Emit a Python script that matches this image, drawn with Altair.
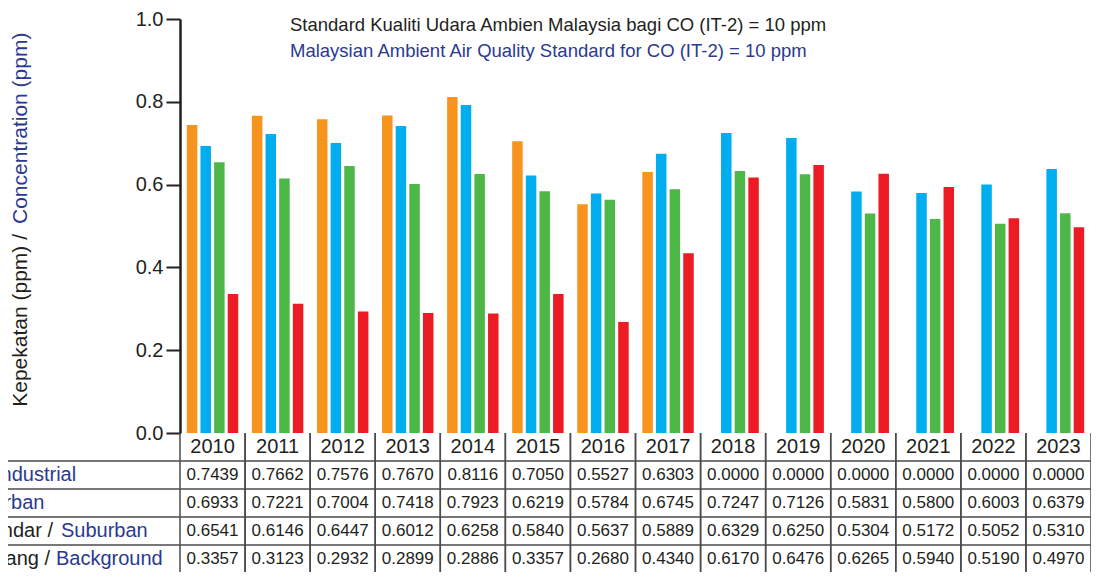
import altair as alt
import pandas as pd

# ---------------- data ----------------
years = ["2010", "2011", "2012", "2013", "2014", "2015", "2016",
         "2017", "2018", "2019", "2020", "2021", "2022", "2023"]
series_names = ["Industrial", "Urban", "Suburban", "Background"]
industrial = [0.7439, 0.7662, 0.7576, 0.7670, 0.8116, 0.7050, 0.5527,
              0.6303, 0.0000, 0.0000, 0.0000, 0.0000, 0.0000, 0.0000]
urban = [0.6933, 0.7221, 0.7004, 0.7418, 0.7923, 0.6219, 0.5784,
         0.6745, 0.7247, 0.7126, 0.5831, 0.5800, 0.6003, 0.6379]
suburban = [0.6541, 0.6146, 0.6447, 0.6012, 0.6258, 0.5840, 0.5637,
            0.5889, 0.6329, 0.6250, 0.5304, 0.5172, 0.5052, 0.5310]
background = [0.3357, 0.3123, 0.2932, 0.2899, 0.2886, 0.3357, 0.2680,
              0.4340, 0.6170, 0.6476, 0.6265, 0.5940, 0.5190, 0.4970]
y_ticks = [0.0, 0.2, 0.4, 0.6, 0.8, 1.0]

y_title_ms = "Kepekatan (ppm) /"
y_title_en = "Concentration (ppm)"
note_ms = "Standard Kualiti Udara Ambien Malaysia bagi CO (IT-2) = 10 ppm"
note_en = "Malaysian Ambient Air Quality Standard for CO (IT-2) = 10 ppm"

# row labels: (malay part, english part)
row_labels = [("", "Industrial"), ("", "Urban"),
              ("Pinggir Bandar /", "Suburban"),
              ("Latar Belakang /", "Background")]

# ---------------- styles ----------------
colors = ["#F7941D", "#00AEEF", "#4DB848", "#ED1C24"]
BLACK = "#231F20"
BLUE = "#2B3990"
LINE = "#4A4A4A"
FONT = "Liberation Sans"

W, H = 911, 414
ROW_H = 28
TABLE_BOTTOM = H + 5 * ROW_H  # svg clips the last row

rows = []
for name, vals in zip(series_names, [industrial, urban, suburban, background]):
    for yr, v in zip(years, vals):
        rows.append({"year": yr, "series": name, "value": v})
df = pd.DataFrame(rows)
year_df = pd.DataFrame({"year": years})

x_scale = alt.Scale(domain=years, paddingInner=0, paddingOuter=0)

bars = alt.Chart(df).mark_bar().encode(
    x=alt.X("year:N", scale=x_scale,
            axis=alt.Axis(labels=False, ticks=False, title=None, grid=False,
                          domain=True, domainColor=BLACK, domainWidth=2.5)),
    xOffset=alt.XOffset("series:N",
                        scale=alt.Scale(domain=series_names, paddingInner=0.23,
                                        paddingOuter=0.5)),
    y=alt.Y("value:Q", scale=alt.Scale(domain=[0, 1], nice=False, zero=True),
            axis=alt.Axis(values=y_ticks, format=".1f", title=None, grid=False,
                          tickSize=14, tickWidth=2, tickColor=BLACK,
                          domainColor=BLACK, domainWidth=2.5,
                          labelFont=FONT, labelFontSize=20, labelColor=BLACK,
                          labelPadding=3)),
    color=alt.Color("series:N",
                    scale=alt.Scale(domain=series_names, range=colors),
                    legend=None),
)


def text_layer(text, x, y, color, align="left", angle=0, size=20, font=FONT):
    kw = dict(align=align, baseline="middle", fontSize=size, font=font, color=color)
    if angle:
        kw["angle"] = angle
    return alt.Chart(pd.DataFrame({"t": [text]})).mark_text(**kw).encode(
        x=alt.value(x), y=alt.value(y), text="t:N")


layers = [bars]

# vertical table lines (left edge of each year column + right edge)
layers.append(alt.Chart(year_df).mark_rule(color=LINE, strokeWidth=1.5).encode(
    x=alt.X("year:N", scale=x_scale, bandPosition=0, axis=None),
    y=alt.value(H), y2=alt.value(TABLE_BOTTOM)))
layers.append(alt.Chart(year_df).mark_rule(color=LINE, strokeWidth=1.5).encode(
    x=alt.X("year:N", scale=x_scale, bandPosition=1, axis=None),
    y=alt.value(H), y2=alt.value(TABLE_BOTTOM)))

# horizontal table lines
for i in range(1, 5):
    layers.append(alt.Chart(year_df.head(1)).mark_rule(color=LINE, strokeWidth=1.5).encode(
        x=alt.value(-172), x2=alt.value(W), y=alt.value(H + i * ROW_H)))

# header years
layers.append(alt.Chart(year_df).mark_text(
    font=FONT, fontSize=20, color=BLACK, baseline="middle").encode(
    x=alt.X("year:N", scale=x_scale, axis=None),
    y=alt.value(H + ROW_H / 2), text="year:N"))

# table values
for i, name in enumerate(series_names):
    layers.append(alt.Chart(df).transform_filter(
        alt.datum.series == name).mark_text(
        font=FONT, fontSize=17, color=BLACK, baseline="middle").encode(
        x=alt.X("year:N", scale=x_scale, axis=None),
        y=alt.value(H + ROW_H * (i + 1.5)),
        text=alt.Text("value:Q", format=".4f")))

# row labels (cut at the left edge, as in the source)
label_pos = [(None, -185), (None, -190), (-127, -119), (-130, -124)]
for i, ((ms, en), (xm, xe)) in enumerate(zip(row_labels, label_pos)):
    yy = H + ROW_H * (i + 1.5)
    if ms:
        layers.append(text_layer(ms, xm, yy, BLACK, align="right"))
    layers.append(text_layer(en, xe, yy, BLUE, align="left"))

# y-axis title (two colours)
layers.append(text_layer(y_title_ms, -159, 215, BLACK, align="right", angle=270, size=21))
layers.append(text_layer(y_title_en, -159, 205, BLUE, align="left", angle=270, size=21))

# standard note
layers.append(text_layer(note_ms, 110, 6, BLACK, size=18.5))
layers.append(text_layer(note_en, 110, 32, BLUE, size=18.5))

chart = alt.layer(*layers).properties(
    width=W, height=H,
    autosize=alt.AutoSizeParams(type="none"),
    padding={"left": 172, "top": 11, "right": 0, "bottom": 139},
    background="white",
).configure_view(stroke=None)

chart.save("out.html", embed_options={"renderer": "svg", "actions": False})
